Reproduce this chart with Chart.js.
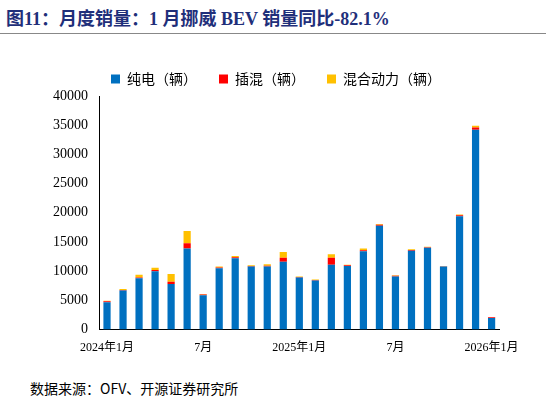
<!DOCTYPE html>
<html><head><meta charset="utf-8">
<script src="https://cdn.jsdelivr.net/npm/chart.js@4"></script>
<style>
body{margin:0;width:546px;height:405px;background:#fff;font-family:"Noto Sans CJK SC","Liberation Serif",serif;position:relative;overflow:hidden}
#title{position:absolute;left:6px;top:4px;font-size:18px;font-weight:bold;color:#1F2F7A;font-family:"Liberation Serif","Noto Sans CJK SC",serif}
#line{position:absolute;left:0;right:0;top:33px;border-top:1px solid #888}
#wrap{position:absolute;left:50px;top:50px;width:472px;height:308px}
#src{position:absolute;left:30px;top:378px;font-size:14px;color:#000}
</style></head><body>
<div id="title">图11：月度销量：1 月挪威 BEV 销量同比-82.1%</div>
<div id="line"></div>
<div id="wrap"><canvas id="c"></canvas></div>
<div id="src">数据来源：OFV、开源证券研究所</div>
<script>
const months = ["2024年1月","","","","","","7月","","","","","","2025年1月","","","","","","7月","","","","","","2026年1月"];
const bev  = [4700,6700,8800,10000,7800,13900,5900,10500,12200,10800,10800,11600,8900,8400,11100,10900,13400,17800,9100,13500,14000,10800,19400,34200,2000];
const phev = [150,100,100,200,400,900,100,150,200,100,150,700,100,100,1200,100,200,150,100,150,100,50,200,400,100];
const hev  = [100,150,500,400,1300,2100,100,150,200,100,250,1000,100,100,600,100,300,150,100,100,100,50,100,300,0];
const yTicks = [0,5000,10000,15000,20000,25000,30000,35000,40000];
new Chart(document.getElementById("c"), {
  type: "bar",
  data: {
    labels: months,
    datasets: [
      {label: "纯电（辆）", data: bev, backgroundColor: "#0070C0"},
      {label: "插混（辆）", data: phev, backgroundColor: "#FF0000"},
      {label: "混合动力（辆）", data: hev, backgroundColor: "#FFC000"}
    ]
  },
  options: {
    animation: false, responsive: true, maintainAspectRatio: false,
    layout: {padding: {right: 20}},
    datasets: {bar: {categoryPercentage: 0.9, barPercentage: 0.5}},
    plugins: {
      legend: {position: "top", labels: {boxWidth: 9, boxHeight: 9, font: {size: 14, family: "Noto Sans CJK SC"}, color: "#000", padding: 22}},
      tooltip: {enabled: false}
    },
    scales: {
      x: {stacked: true, grid: {display: false, drawTicks: true}, border: {color: "#000"},
          ticks: {autoSkip: false, maxRotation: 0, color: "#000", font: {size: 12, family: "Liberation Serif, Noto Sans CJK SC"}}},
      y: {stacked: true, min: 0, max: 40000, grid: {display: false}, border: {color: "#000"},
          afterBuildTicks: a => { a.ticks = yTicks.map(v => ({value: v})); },
          ticks: {color: "#000", font: {size: 14, family: "Liberation Serif"}, callback: v => String(v)}}
    }
  }
});
</script>
</body></html>
